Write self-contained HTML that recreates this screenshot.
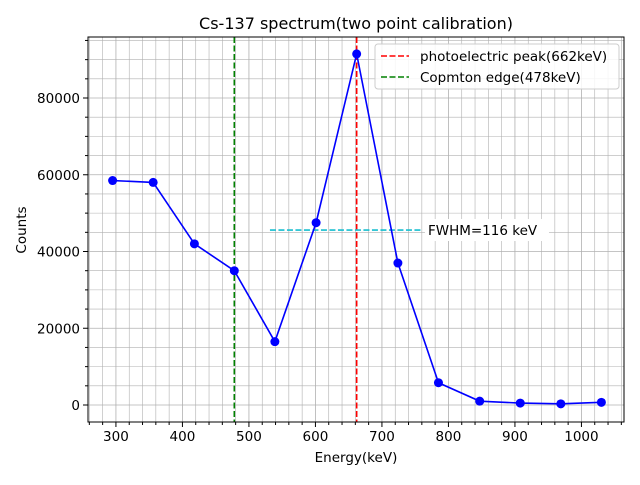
<!DOCTYPE html>
<html><head><meta charset="utf-8"><style>
body{margin:0;background:#fff}
svg text{font-family:"DejaVu Sans","Liberation Sans",sans-serif;}
</style></head><body>
<svg id="c" width="640" height="480" xmlns="http://www.w3.org/2000/svg"></svg>
<script>
const energies=[295,356,418,478,539,601,662,724,785,847,908,969,1030];
const counts=[58500,58000,42000,35000,16500,47500,91500,37000,5800,1000,500,300,700];
const xTicks=[300,400,500,600,700,800,900,1000];
const yTicks=[0,20000,40000,60000,80000];
const peakE=[662];
const edgeE=[478];
const fwhm=[531.6,761.7,45600];
const L=88,R=624,T=37,B=422;
const x0=258,x1=1064,y0=-4430,y1=95900;
const FS=13.5;
const X=v=>L+(v-x0)/(x1-x0)*(R-L);
const Y=v=>B-(v-y0)/(y1-y0)*(B-T);
const s=document.getElementById('c');const NS='http://www.w3.org/2000/svg';
function mk(t,a,p){const e=document.createElementNS(NS,t);for(const k in a)e.setAttribute(k,a[k]);(p||s).appendChild(e);return e;}
const g=mk('g',{});


for(let v=260;v<=1060;v+=20){mk('line',{x1:X(v),x2:X(v),y1:T,y2:B,stroke:'#b0b0b0','stroke-width':v%100==0?0.8:0.6},g);}
for(let v=0;v<=95000;v+=5000){mk('line',{x1:L,x2:R,y1:Y(v),y2:Y(v),stroke:'#b0b0b0','stroke-width':v%20000==0?0.8:0.6},g);}
const pk=mk('line',{x1:X(peakE[0]),x2:X(peakE[0]),y1:T,y2:B,stroke:'red','stroke-width':1.6,'stroke-dasharray':'6,2.5'});


const ed=mk('line',{x1:X(edgeE[0]),x2:X(edgeE[0]),y1:T,y2:B,stroke:'green','stroke-width':1.6,'stroke-dasharray':'6,2.5'});


const fw=mk('line',{x1:X(fwhm[0]),x2:X(fwhm[1]),y1:Y(fwhm[2]),y2:Y(fwhm[2]),stroke:'#17becf','stroke-width':1.6,'stroke-dasharray':'6,2.5'});


mk('rect',{x:X(fwhm[1])+2,y:Y(fwhm[2])-11,width:124,height:22,fill:'#fff'});
const ft=mk('text',{x:X(fwhm[1])+5,y:Y(fwhm[2])+5,'font-size':FS});ft.textContent='FWHM=116 keV';


const pl=mk('polyline',{points:energies.map((e,i)=>X(e)+','+Y(counts[i])).join(' '),fill:'none',stroke:'blue','stroke-width':1.6});


energies.forEach((e,i)=>{const c=mk('circle',{cx:X(e),cy:Y(counts[i]),r:4.5,fill:'blue'});

});
mk('rect',{x:L,y:T,width:R-L,height:B-T,fill:'none',stroke:'#000','stroke-width':1});
xTicks.forEach(v=>{mk('line',{x1:X(v),x2:X(v),y1:B,y2:B+5,stroke:'#000'});const t=mk('text',{x:X(v),y:B+19,'font-size':FS,'text-anchor':'middle'});t.textContent=v;

});
for(let v=260;v<=1060;v+=20)if(v%100)mk('line',{x1:X(v),x2:X(v),y1:B,y2:B+3,stroke:'#000'});
yTicks.forEach(v=>{mk('line',{x1:L-5,x2:L,y1:Y(v),y2:Y(v),stroke:'#000'});const t=mk('text',{x:L-8,y:Y(v)+5,'font-size':FS,'text-anchor':'end'});t.textContent=v;

});
for(let v=0;v<=95000;v+=5000)if(v%20000)mk('line',{x1:L-3,x2:L,y1:Y(v),y2:Y(v),stroke:'#000'});
let t=mk('text',{x:356,y:29,'font-size':16,'text-anchor':'middle'});t.textContent='Cs-137 spectrum(two point calibration)';


t=mk('text',{x:356,y:462,'font-size':FS,'text-anchor':'middle'});t.textContent='Energy(keV)';


t=mk('text',{x:0,y:0,'font-size':FS,'text-anchor':'middle',transform:'translate(26,230) rotate(-90)'});t.textContent='Counts';


const lg=mk('g',{});


mk('rect',{x:375,y:44,width:244,height:45,rx:3,fill:'#fff','fill-opacity':0.85,stroke:'#ccc'},lg);
mk('line',{x1:381,x2:409,y1:56,y2:56,stroke:'red','stroke-width':1.6,'stroke-dasharray':'6,2.5'},lg);
mk('line',{x1:381,x2:409,y1:77,y2:77,stroke:'green','stroke-width':1.6,'stroke-dasharray':'6,2.5'},lg);
t=mk('text',{x:420,y:61,'font-size':FS},lg);t.textContent='photoelectric peak(662keV)';


t=mk('text',{x:420,y:82,'font-size':FS},lg);t.textContent='Copmton edge(478keV)';


</script>
</body></html>
